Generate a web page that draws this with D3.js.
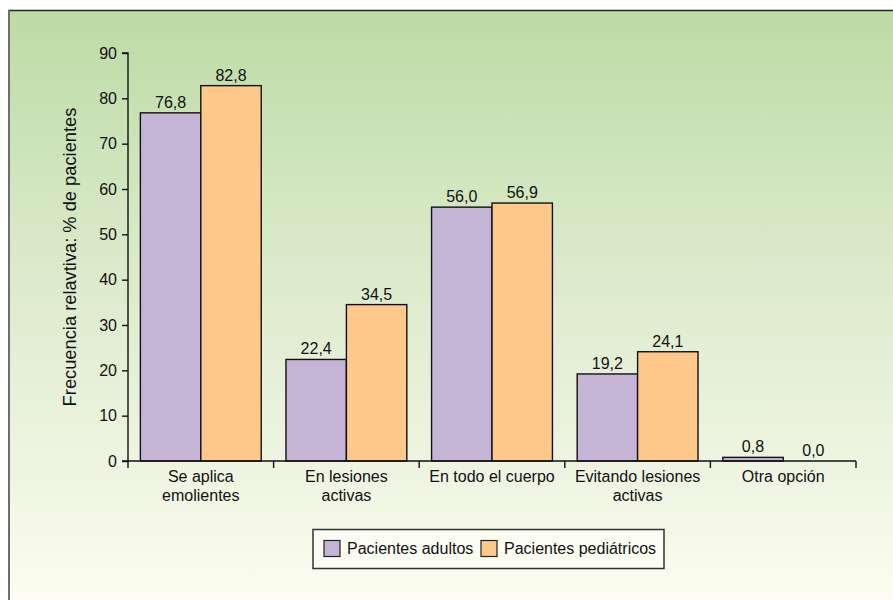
<!DOCTYPE html>
<html>
<head>
<meta charset="utf-8">
<script src="https://cdn.jsdelivr.net/npm/d3@7"></script>
<style>
  html, body { margin: 0; padding: 0; background: #fff; }
  svg { display: block; font-family: "Liberation Sans", Arial, Helvetica, sans-serif; }
</style>
</head>
<body>
<svg id="chart" width="893" height="600"></svg>
<script>
// Categories (two-line labels) and the two patient series
const categories = [
  ["Se aplica", "emolientes"],
  ["En lesiones", "activas"],
  ["En todo el cuerpo"],
  ["Evitando lesiones", "activas"],
  ["Otra opción"]
];
const adultos = [76.8, 22.4, 56.0, 19.2, 0.8];
const pediatricos = [82.8, 34.5, 56.9, 24.1, 0.0];
const seriesNames = ["Pacientes adultos", "Pacientes pediátricos"];
const yTicks = [0, 10, 20, 30, 40, 50, 60, 70, 80, 90];
const yTitle = "Frecuencia relavtiva: % de pacientes";

const colors = ["#c6b4d7", "#fec88b"];
const fmt = v => v.toFixed(1).replace(".", ",");
const FS = 16;

const svg = d3.select("#chart");

// Panel background with vertical gradient
const defs = svg.append("defs");
const grad = defs.append("linearGradient")
  .attr("id", "bg").attr("x1", 0).attr("y1", 0).attr("x2", 0).attr("y2", 1);
grad.append("stop").attr("offset", "0%").attr("stop-color", "#bddba5");
grad.append("stop").attr("offset", "45%").attr("stop-color", "#dcebcc");
grad.append("stop").attr("offset", "80%").attr("stop-color", "#f0f5e3");
grad.append("stop").attr("offset", "100%").attr("stop-color", "#fcfdf0");

svg.append("rect")
  .attr("x", 8).attr("y", 10).attr("width", 893 - 8).attr("height", 600 - 10)
  .attr("fill", "url(#bg)");
svg.append("line")
  .attr("x1", 8).attr("x2", 893).attr("y1", 10.5).attr("y2", 10.5)
  .attr("stroke", "#222").attr("stroke-width", 1.5);
svg.append("line")
  .attr("x1", 9).attr("x2", 9).attr("y1", 10).attr("y2", 600)
  .attr("stroke", "#6e6e6e").attr("stroke-width", 2);

// Plot geometry
const x0 = 128, x1 = 856, yTop = 53, yBot = 461;

const x = d3.scaleBand()
  .domain(d3.range(categories.length))
  .range([x0, x1])
  .paddingInner(0.17).paddingOuter(0.085);
const xs = d3.scaleBand().domain([0, 1]).range([0, x.bandwidth()]);
const y = d3.scaleLinear().domain([0, 90]).range([yBot, yTop]);

// Bars
const data = categories.map((c, i) => ({ i, vals: [adultos[i], pediatricos[i]] }));
const groups = svg.append("g").selectAll("g").data(data).join("g")
  .attr("transform", d => `translate(${x(d.i)},0)`);

groups.selectAll("rect").data(d => d.vals.map((v, k) => ({ v, k }))).join("rect")
  .attr("x", d => xs(d.k))
  .attr("y", d => y(d.v))
  .attr("width", xs.bandwidth())
  .attr("height", d => yBot - y(d.v))
  .attr("fill", d => colors[d.k])
  .attr("stroke", "#111").attr("stroke-width", 1.4);

groups.selectAll("text").data(d => d.vals.map((v, k) => ({ v, k }))).join("text")
  .attr("x", d => xs(d.k) + xs.bandwidth() / 2)
  .attr("y", d => y(d.v) - 5)
  .attr("text-anchor", "middle")
  .attr("font-size", FS).attr("fill", "#111")
  .text(d => fmt(d.v));

// Y axis
const yAxis = d3.axisLeft(y).tickValues(yTicks).tickSize(6).tickPadding(5);
const gy = svg.append("g").attr("transform", `translate(${x0},0)`).call(yAxis);
gy.select(".domain").attr("stroke", "#111").attr("stroke-width", 1.4)
  .attr("d", `M-6,${yTop}H0V${yBot}`);
gy.selectAll(".tick line").attr("stroke", "#111").attr("stroke-width", 1.4);
gy.selectAll(".tick text").attr("font-size", FS).attr("fill", "#111")
  .attr("font-family", "Liberation Sans, Arial, sans-serif");

// X axis: boundaries between categories with downward ticks
const gx = svg.append("g");
gx.append("line")
  .attr("x1", x0 - 6).attr("x2", x1).attr("y1", yBot).attr("y2", yBot)
  .attr("stroke", "#111").attr("stroke-width", 1.4);
const bounds = d3.range(categories.length + 1).map(i => x0 + i * (x1 - x0) / categories.length);
gx.selectAll("line.b").data(bounds).join("line").attr("class", "b")
  .attr("x1", d => d).attr("x2", d => d)
  .attr("y1", yBot).attr("y2", yBot + 7)
  .attr("stroke", "#111").attr("stroke-width", 1.4);

const catText = gx.selectAll("text.c").data(categories).join("text").attr("class", "c")
  .attr("x", (d, i) => x(i) + x.bandwidth() / 2)
  .attr("y", yBot + 21)
  .attr("text-anchor", "middle")
  .attr("font-size", FS).attr("fill", "#111");
catText.selectAll("tspan").data(d => d).join("tspan")
  .attr("x", function () { return d3.select(this.parentNode).attr("x"); })
  .attr("dy", (d, k) => k === 0 ? 0 : 19)
  .text(d => d);

// Y title
svg.append("text")
  .attr("transform", `translate(76,${(yTop + yBot) / 2}) rotate(-90)`)
  .attr("text-anchor", "middle")
  .attr("font-size", 18.3).attr("fill", "#111")
  .text(yTitle);

// Legend
const lg = svg.append("g");
lg.append("rect")
  .attr("x", 313).attr("y", 529.5).attr("width", 351).attr("height", 39)
  .attr("fill", "#fbfcf2").attr("stroke", "#333").attr("stroke-width", 1.5);
const legendX = [324, 481];
seriesNames.forEach((name, k) => {
  lg.append("rect")
    .attr("x", legendX[k]).attr("y", 540.5).attr("width", 16).attr("height", 16)
    .attr("fill", colors[k]).attr("stroke", "#222").attr("stroke-width", 1.2);
  lg.append("text")
    .attr("x", legendX[k] + 23).attr("y", 554)
    .attr("font-size", FS).attr("fill", "#111")
    .text(name);
});
</script>
</body>
</html>
